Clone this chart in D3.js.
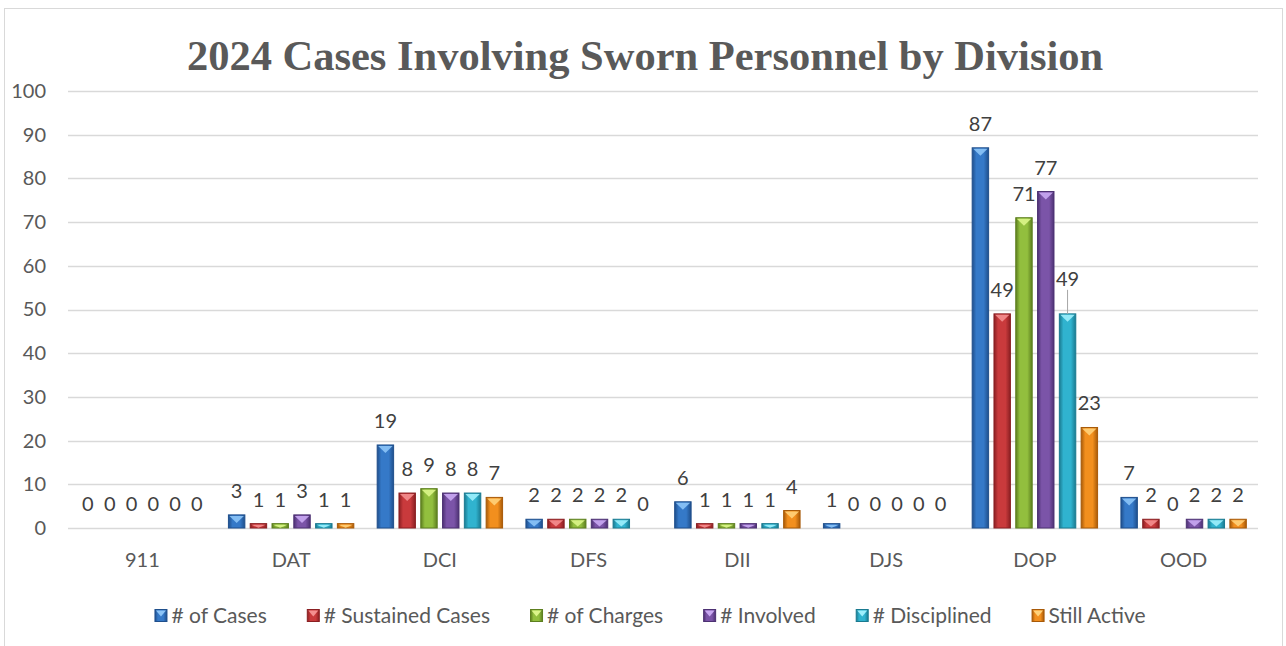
<!DOCTYPE html>
<html>
<head>
<meta charset="utf-8">
<script src="https://cdn.jsdelivr.net/npm/d3@7"></script>
<style>
  body { margin: 0; background: #fff; }
  svg { display: block; }
  text { font-family: Lato, "Open Sans", sans-serif; }
</style>
</head>
<body>
<div id="chart"></div>
<script>
var divisions = ["911", "DAT", "DCI", "DFS", "DII", "DJS", "DOP", "OOD"];
var seriesNames = ["# of Cases", "# Sustained Cases", "# of Charges", "# Involved", "# Disciplined", "Still Active"];
var cases      = [0, 3, 19, 2, 6, 1, 87, 7];
var sustained  = [0, 1, 8, 2, 1, 0, 49, 2];
var charges    = [0, 1, 9, 2, 1, 0, 71, 0];
var involved   = [0, 3, 8, 2, 1, 0, 77, 2];
var disciplined= [0, 1, 8, 2, 1, 0, 49, 2];
var stillActive= [0, 1, 7, 0, 4, 0, 23, 2];
var yTicks = [0, 10, 20, 30, 40, 50, 60, 70, 80, 90, 100];

var seriesValues = [cases, sustained, charges, involved, disciplined, stillActive];
// base, dark edge, light top
var palette = [
  ["#3579c8", "#1f4f8c", "#8cc4f7"],
  ["#c93a3c", "#8a1f22", "#f48f8f"],
  ["#92bf3e", "#5d7f1f", "#dcf58a"],
  ["#7b54a8", "#4d3173", "#c9a8f2"],
  ["#30b3cf", "#1a7a90", "#9eeffc"],
  ["#f28f1e", "#a85a08", "#ffd27a"]
];

var width = 1286, height = 646;
var svg = d3.select("#chart").append("svg")
  .attr("width", width).attr("height", height);

var defs = svg.append("defs");
palette.forEach(function(c, i) {
  var g = defs.append("linearGradient").attr("id", "grad" + i)
    .attr("x1", "0%").attr("x2", "100%").attr("y1", "0%").attr("y2", "0%");
  g.append("stop").attr("offset", "0%").attr("stop-color", c[1]);
  g.append("stop").attr("offset", "25%").attr("stop-color", c[0]);
  g.append("stop").attr("offset", "70%").attr("stop-color", c[0]);
  g.append("stop").attr("offset", "100%").attr("stop-color", c[1]);
});

// frame
svg.append("rect").attr("x", 4.5).attr("y", 8.5).attr("width", 1278).attr("height", 650)
  .attr("fill", "none").attr("stroke", "#d9d9d9");

svg.append("text")
  .attr("x", 645).attr("y", 70)
  .attr("text-anchor", "middle")
  .style("font-family", "'Liberation Serif', 'Times New Roman', serif")
  .style("font-weight", "bold")
  .style("font-size", "42.5px")
  .attr("fill", "#595959")
  .text("2024 Cases Involving Sworn Personnel by Division");

var x0 = d3.scaleBand().domain(divisions).range([68, 1258]);
var x1 = d3.scaleBand().domain(d3.range(seriesNames.length))
  .range([9, x0.bandwidth() - 9]).paddingInner(0.2).paddingOuter(0.1);
var y = d3.scaleLinear().domain([0, 100]).range([528, 91]);

// gridlines
svg.append("g").selectAll("line").data(yTicks).enter().append("line")
  .attr("x1", 68).attr("x2", 1258)
  .attr("y1", function(d) { return Math.round(y(d)) + 0.5; })
  .attr("y2", function(d) { return Math.round(y(d)) + 0.5; })
  .attr("stroke", "#d9d9d9").attr("stroke-width", 1.3);

var yAxis = svg.append("g").attr("transform", "translate(46,0)")
  .call(d3.axisLeft(y).tickValues(yTicks).tickSize(0).tickPadding(0));
yAxis.select(".domain").remove();
yAxis.selectAll("text").style("font-size", "20px").attr("fill", "#595959")
  .style("font-family", "Lato, sans-serif");

var xAxis = svg.append("g").attr("transform", "translate(0,551)")
  .call(d3.axisBottom(x0).tickSize(0).tickPadding(0));
xAxis.select(".domain").remove();
xAxis.selectAll("text").style("font-size", "20px").attr("fill", "#595959")
  .style("font-family", "Lato, sans-serif").attr("dy", "0.8em");

var points = [];
divisions.forEach(function(div, di) {
  seriesValues.forEach(function(vals, si) {
    points.push({ div: div, s: si, v: vals[di] });
  });
});

var bars = svg.append("g").selectAll("g").data(points).enter().append("g")
  .attr("transform", function(d) { return "translate(" + (x0(d.div) + x1(d.s)) + ",0)"; });

var bw = x1.bandwidth();
bars.filter(function(d) { return d.v > 0; }).each(function(d) {
  var g = d3.select(this);
  var top = y(d.v), h = y(0) - top;
  g.append("rect").attr("x", 0.5).attr("y", top).attr("width", bw - 1).attr("height", h)
    .attr("fill", "url(#grad" + d.s + ")")
    .attr("stroke", palette[d.s][1]).attr("stroke-width", 1);
  var th = Math.min(7, h * 0.7);
  g.append("path")
    .attr("d", "M1.5," + (top + 1) + "L" + (bw - 1.5) + "," + (top + 1) + "L" + (bw / 2) + "," + (top + 1 + th) + "Z")
    .attr("fill", palette[d.s][2]).attr("opacity", 0.9);
});

// data labels; the DOP disciplined label is lifted with a leader line
var lifted = function(d) { return d.div === "DOP" && d.s === 4; };
bars.append("text")
  .attr("x", bw / 2)
  .attr("y", function(d) { return y(d.v) - (lifted(d) ? 28 : 17); })
  .attr("text-anchor", "middle")
  .style("font-size", "20px").attr("fill", "#404040")
  .text(function(d) { return d.v; });
bars.filter(lifted).append("line")
  .attr("x1", bw / 2).attr("x2", bw / 2)
  .attr("y1", function(d) { return y(d.v) - 24; })
  .attr("y2", function(d) { return y(d.v); })
  .attr("stroke", "#a6a6a6");

// legend
var legend = svg.append("g");
var lx = 0;
seriesNames.forEach(function(name, i) {
  var item = legend.append("g").attr("transform", "translate(" + lx + ",0)");
  item.append("rect").attr("x", 0.5).attr("y", -13.5).attr("width", 12).attr("height", 12)
    .attr("fill", "url(#grad" + i + ")").attr("stroke", palette[i][1]);
  item.append("path").attr("d", "M1.5,-12.5L11.5,-12.5L6.5,-6.5Z").attr("fill", palette[i][2]);
  var t = item.append("text").attr("x", 17).attr("y", 0)
    .style("font-size", "21px").attr("fill", "#595959").text(name);
  lx += 17 + t.node().getComputedTextLength() + 40;
});
lx -= 40;
legend.attr("transform", "translate(" + (650 - lx / 2) + ",623)");
</script>
</body>
</html>
